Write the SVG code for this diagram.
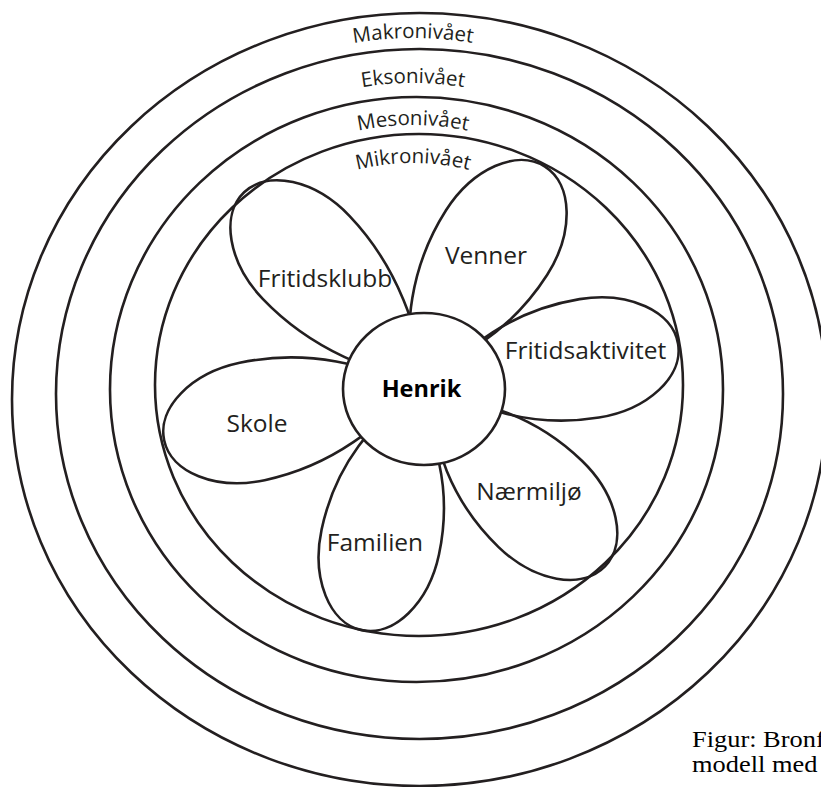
<svg xmlns="http://www.w3.org/2000/svg" width="821" height="787" viewBox="0 0 821 787">
<style>
.ring{fill:none;stroke:#231f20;stroke-width:2.6}
.petal{fill:none;stroke:#231f20;stroke-width:2.6}
.core{fill:#ffffff;stroke:#231f20;stroke-width:2.6}
.lvl{font-family:"Open Sans","Noto Sans",sans-serif;font-size:20.5px;fill:#231f20}
.lbl{font-family:"Open Sans","Noto Sans",sans-serif;font-size:24.5px;fill:#231f20;text-anchor:middle}
.hen{font-family:"Open Sans","Noto Sans",sans-serif;font-size:23.5px;font-weight:bold;fill:#000;text-anchor:middle}
.cap{font-family:"Liberation Serif","Times New Roman",serif;font-size:24px;fill:#000}
</style>
<defs>
<path id="arcMakro" d="M61,390 A352,352 0 0 1 765,390"/>
<path id="arcEkso" d="M106,390 A307,307 0 0 1 720,390"/>
<path id="arcMeso" d="M148,390 A265,265 0 0 1 678,390"/>
<path id="arcMikro" d="M186,390 A227,227 0 0 1 640,390"/>
</defs>
<rect width="821" height="787" fill="#ffffff"/>
<g id="makro">
<ellipse class="ring" cx="419.5" cy="399.5" rx="407.5" ry="386.5"/>
<text class="lvl"><textPath href="#arcMakro" startOffset="50%" text-anchor="middle">Makronivået</textPath></text>
</g>
<g id="ekso">
<ellipse class="ring" cx="419.5" cy="394" rx="363.5" ry="345"/>
<text class="lvl"><textPath href="#arcEkso" startOffset="50%" text-anchor="middle">Eksonivået</textPath></text>
</g>
<g id="meso">
<ellipse class="ring" cx="416.5" cy="389.5" rx="306.5" ry="292.5"/>
<text class="lvl"><textPath href="#arcMeso" startOffset="50%" text-anchor="middle">Mesonivået</textPath></text>
</g>
<g id="mikro">
<ellipse class="ring" cx="419" cy="385" rx="264" ry="251"/>
<text class="lvl"><textPath href="#arcMikro" startOffset="50%" text-anchor="middle">Mikronivået</textPath></text>
</g>
<g id="connectors"></g>
<g id="fritidsklubb">
<path class="petal" transform="translate(432.4,390) rotate(-133.6)" d="M273,0 C273,-33 233,-60 183,-60 C115,-60 45,-30 20,0 C45,30 115,60 183,60 C233,60 273,33 273,0Z"/>
<text class="lbl" x="325" y="287">Fritidsklubb</text>
</g>
<g id="venner">
<path class="petal" transform="translate(404.2,387.6) rotate(-57.5)" d="M262,0 C262,-33 222,-60 172,-60 C104,-60 45,-30 20,0 C45,30 104,60 172,60 C222,60 262,33 262,0Z"/>
<text class="lbl" x="486" y="264">Venner</text>
</g>
<g id="fritidsaktivitet">
<path class="petal" transform="translate(421.5,385.8) rotate(-9.3)" d="M260,0 C260,-33 220,-60 170,-60 C102,-60 45,-30 20,0 C45,30 102,60 170,60 C220,60 260,33 260,0Z"/>
<text class="lbl" x="585.5" y="359">Fritidsaktivitet</text>
</g>
<g id="naermiljo">
<path class="petal" transform="translate(419.4,387.2) rotate(44)" d="M258,0 C258,-33 218,-60 168,-60 C100,-60 45,-30 20,0 C45,30 100,60 168,60 C218,60 258,33 258,0Z"/>
<text class="lbl" x="529" y="500">Nærmiljø</text>
</g>
<g id="familien">
<path class="petal" transform="translate(414.8,379.7) rotate(102)" d="M256,0 C256,-33 216,-60 166,-60 C98,-60 45,-30 20,0 C45,30 98,60 166,60 C216,60 256,33 256,0Z"/>
<text class="lbl" x="375" y="551">Familien</text>
</g>
<g id="skole">
<path class="petal" transform="translate(425.3,384.7) rotate(168)" d="M267,0 C267,-33 227,-60 177,-60 C109,-60 45,-30 20,0 C45,30 109,60 177,60 C227,60 267,33 267,0Z"/>
<text class="lbl" x="257" y="432">Skole</text>
</g>
<g id="henrik">
<ellipse class="core" cx="424" cy="389" rx="81" ry="76"/>
<text class="hen" x="421.5" y="397">Henrik</text>
</g>
<g id="caption">
<text class="cap" transform="translate(692,747) scale(1.1,1)">Figur: Bronf</text>
<text class="cap" transform="translate(692,772) scale(1.1,1)">modell med</text>
</g>
</svg>
